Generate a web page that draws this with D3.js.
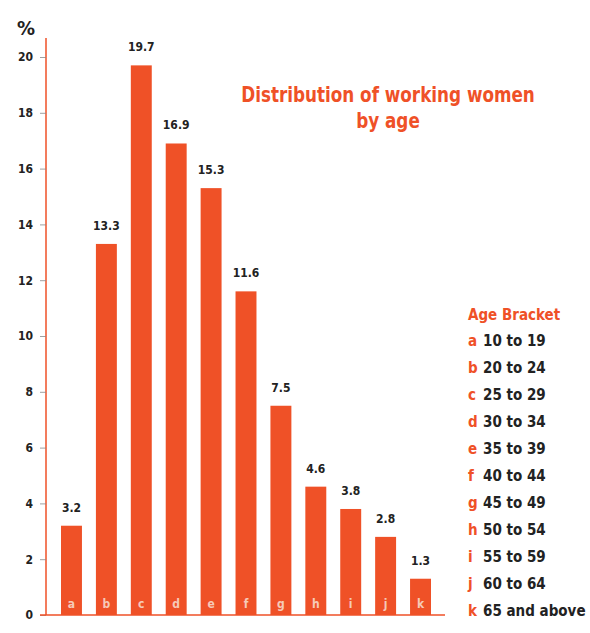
<!DOCTYPE html>
<html>
<head>
<meta charset="utf-8">
<script src="https://cdn.jsdelivr.net/npm/d3@7"></script>
<style>
  body { margin: 0; background: #fff; }
  svg text { font-family: "DejaVu Sans Condensed", "DejaVu Sans", sans-serif; font-weight: bold; }
</style>
</head>
<body>
<div id="chart"></div>
<script>
// working women by age bracket, percent
const letters = ['a', 'b', 'c', 'd', 'e', 'f', 'g', 'h', 'i', 'j', 'k'];
const shares = [3.2, 13.3, 19.7, 16.9, 15.3, 11.6, 7.5, 4.6, 3.8, 2.8, 1.3];
const brackets = ['10 to 19', '20 to 24', '25 to 29', '30 to 34', '35 to 39', '40 to 44',
  '45 to 49', '50 to 54', '55 to 59', '60 to 64', '65 and above'];
const yTicks = [0, 2, 4, 6, 8, 10, 12, 14, 16, 18, 20];

const width = 590;
const height = 633;
const red = '#ef5127';
const ink = '#222';

const svg = d3.select('#chart').append('svg')
  .attr('width', width)
  .attr('height', height);

const x = d3.scaleBand()
  .domain(letters)
  .range([46, 446])
  .paddingInner(0.4)
  .paddingOuter(0.43);

const y = d3.scaleLinear()
  .domain([0, 20])
  .range([615, 57]);

// y axis: orange line, short grey ticks, labels on the left
svg.append('line')
  .attr('x1', 46).attr('x2', 46)
  .attr('y1', 38).attr('y2', y(0))
  .attr('stroke', red).attr('stroke-width', 1.5);

const yAxis = svg.append('g')
  .attr('transform', 'translate(46,0)')
  .call(d3.axisLeft(y).tickValues(yTicks).tickSize(6).tickPadding(8));
yAxis.select('.domain').remove();
yAxis.selectAll('.tick line').attr('stroke', '#888').attr('stroke-width', 0.8);
yAxis.selectAll('.tick text')
  .attr('fill', ink)
  .attr('transform', 'translate(1,0)')
  .style('font-size', '12px')
  .style('font-family', '"DejaVu Sans Condensed", sans-serif')
  .style('font-weight', 'bold');

svg.append('text')
  .attr('x', 26).attr('y', 35)
  .attr('text-anchor', 'middle')
  .attr('fill', ink)
  .style('font-size', '20px')
  .text('%');

// baseline
svg.append('line')
  .attr('x1', 40).attr('x2', 445)
  .attr('y1', y(0)).attr('y2', y(0))
  .attr('stroke', red).attr('stroke-width', 1.5);

// bars
svg.selectAll('rect.bar')
  .data(shares)
  .join('rect')
  .attr('class', 'bar')
  .attr('x', (d, i) => x(letters[i]))
  .attr('y', d => y(d))
  .attr('width', x.bandwidth())
  .attr('height', d => y(0) - y(d))
  .attr('fill', red);

// value labels
svg.selectAll('text.val')
  .data(shares)
  .join('text')
  .attr('class', 'val')
  .attr('x', (d, i) => x(letters[i]) + x.bandwidth() / 2)
  .attr('y', d => y(d) - 14)
  .attr('text-anchor', 'middle')
  .attr('fill', ink)
  .style('font-size', '12px')
  .text(d => d.toFixed(1));

// letters inside bar feet
svg.selectAll('text.cat')
  .data(letters)
  .join('text')
  .attr('class', 'cat')
  .attr('x', d => x(d) + x.bandwidth() / 2)
  .attr('y', y(0) - 7)
  .attr('text-anchor', 'middle')
  .attr('fill', '#f6c9b8')
  .style('font-size', '12px')
  .text(d => d);

// title, two centred lines squeezed a little narrower
const title = svg.append('g')
  .attr('transform', 'translate(388,0) scale(0.89,1)')
  .attr('fill', red)
  .style('font-size', '21px');
title.append('text')
  .attr('y', 102)
  .attr('text-anchor', 'middle')
  .text('Distribution of working women');
title.append('text')
  .attr('y', 128)
  .attr('text-anchor', 'middle')
  .text('by age');

// legend
svg.append('text')
  .attr('x', 468).attr('y', 320)
  .attr('fill', red)
  .style('font-size', '15px')
  .text('Age Bracket');

const legend = svg.selectAll('g.leg')
  .data(letters)
  .join('g')
  .attr('class', 'leg')
  .attr('transform', (d, i) => `translate(468,${346 + i * 27})`);

legend.append('text')
  .attr('fill', red)
  .style('font-size', '15px')
  .text(d => d);

legend.append('text')
  .attr('x', 15)
  .attr('fill', ink)
  .style('font-size', '15px')
  .text((d, i) => brackets[i]);
</script>
</body>
</html>
